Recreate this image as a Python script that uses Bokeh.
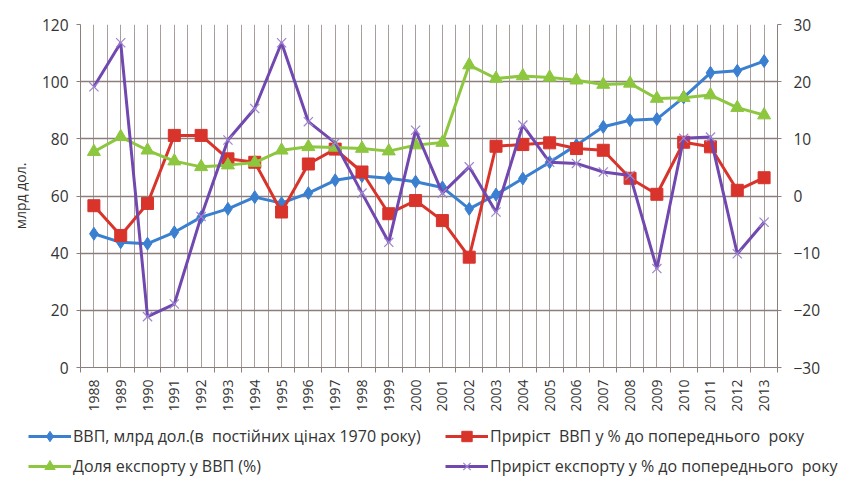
from bokeh.plotting import figure
from bokeh.models import (Range1d, LinearAxis, FixedTicker, Legend, LegendItem,
                          ColumnDataSource)
from bokeh.embed import file_html
from bokeh.resources import INLINE
import math

years = [str(y) for y in range(1988, 2014)]
gdp = [46.8, 43.8, 43.3, 47.3, 52.6, 55.5, 59.6, 57.5, 61.0, 65.5, 67.0, 66.2, 65.0,
       63.0, 55.5, 60.5, 66.1, 71.8, 77.8, 84.2, 86.5, 86.9, 94.5, 103.1, 103.8, 107.2]
gdp_growth = [-1.7, -6.9, -1.3, 10.6, 10.6, 6.5, 5.9, -2.8, 5.6, 8.2, 4.2, -3.1, -0.8,
              -4.3, -10.7, 8.7, 9.0, 9.3, 8.3, 8.0, 3.1, 0.3, 9.4, 8.6, 1.0, 3.2]
export_share = [75.5, 80.7, 76.0, 72.2, 70.2, 70.8, 71.7, 76.0, 77.2, 77.0, 76.6, 75.7, 77.8,
                78.7, 105.8, 101.1, 102.0, 101.5, 100.5, 99.0, 99.4, 94.1, 94.4, 95.3, 90.9, 88.3]
export_growth = [19.1, 26.8, -21.1, -18.9, -3.6, 9.8, 15.3, 26.8, 13.0, 9.3, 0.5, -8.1, 11.5,
                 0.5, 5.1, -2.8, 12.4, 5.9, 5.7, 4.2, 3.6, -12.7, 10.1, 10.3, -10.1, -4.6]

labels = ["ВВП, млрд дол.(в  постійних цінах 1970 року)",
          "Приріст  ВВП у % до попереднього  року",
          "Доля експорту у ВВП (%)",
          "Приріст експорту у % до попереднього  року"]
left_ticks = [0, 20, 40, 60, 80, 100, 120]
right_ticks = [-30, -20, -10, 0, 10, 20, 30]

FONT = "Open Sans"
TXT = "#333333"
GRID_H = "#8a7f7c"
GRID_V = "#a89f9c"

BLUE = "#3b7fd0"
RED = "#d8342c"
GREEN = "#8dc63f"
PURPLE = "#7148b0"
XMARK = "#9d85d0"

xs = [i + 0.5 for i in range(len(years))]
src = ColumnDataSource(dict(x=xs, gdp=gdp, gg=gdp_growth, es=export_share, eg=export_growth))

p = figure(width=862, height=420, output_backend="svg", toolbar_location=None,
           x_range=Range1d(0, len(years)), y_range=Range1d(left_ticks[0], left_ticks[-1]),
           min_border_left=80, min_border_right=85, min_border_top=24, min_border_bottom=53,
           background_fill_color="white", border_fill_color="white")
p.outline_line_color = None
p.extra_y_ranges = {"right": Range1d(right_ticks[0], right_ticks[-1])}

# x axis
xa = p.xaxis[0]
xa.ticker = FixedTicker(ticks=xs, minor_ticks=list(range(len(years) + 1)))
xa.major_label_overrides = {x: y for x, y in zip(xs, years)}
xa.major_label_orientation = math.pi / 2
xa.major_tick_line_color = None
xa.major_tick_out = 5
xa.major_tick_in = 0
xa.minor_tick_out = 5
xa.minor_tick_in = 0
xa.minor_tick_line_color = GRID_H
xa.axis_line_color = GRID_H
xa.major_label_standoff = 7
xa.major_label_text_font = FONT
xa.major_label_text_font_size = "14px"
xa.major_label_text_color = TXT

# left axis
ya = p.yaxis[0]
ya.ticker = FixedTicker(ticks=left_ticks)
ya.minor_tick_line_color = None
ya.major_tick_out = 4
ya.major_tick_in = 0
ya.major_tick_line_color = GRID_H
ya.axis_line_color = GRID_H
ya.major_label_standoff = 8
ya.major_label_text_font = FONT
ya.major_label_text_font_size = "15.5px"
ya.major_label_text_color = TXT
ya.axis_label = "млрд дол."
ya.axis_label_text_font = FONT
ya.axis_label_text_font_size = "14px"
ya.axis_label_text_font_style = "normal"
ya.axis_label_text_color = TXT
ya.axis_label_standoff = 9

# right axis
ra = LinearAxis(y_range_name="right", ticker=FixedTicker(ticks=right_ticks))
ra.minor_tick_line_color = None
ra.major_tick_out = 4
ra.major_tick_in = 0
ra.major_tick_line_color = GRID_H
ra.axis_line_color = GRID_H
ra.major_label_standoff = 12
ra.major_label_text_font = FONT
ra.major_label_text_font_size = "15.5px"
ra.major_label_text_color = TXT
p.add_layout(ra, "right")

# grids
p.xgrid.grid_line_color = GRID_V
p.xgrid.grid_line_width = 1
p.xgrid.minor_grid_line_color = GRID_V
p.xgrid.minor_grid_line_width = 1
p.ygrid.grid_line_color = GRID_H
p.ygrid.grid_line_width = 1.3


def draw_series(fig, rng_name):
    kw = {} if rng_name is None else {"y_range_name": rng_name}
    out = []
    out.append((fig.line("x", "gdp", source=src, color=BLUE, line_width=3),
                fig.scatter("x", "gdp", source=src, marker="diamond", size=13, color=BLUE)))
    out.append((fig.line("x", "gg", source=src, color=RED, line_width=3, **kw),
                fig.scatter("x", "gg", source=src, marker="square", size=12, color=RED, **kw)))
    out.append((fig.line("x", "es", source=src, color=GREEN, line_width=3),
                fig.scatter("x", "es", source=src, marker="triangle", size=13, color=GREEN)))
    out.append((fig.line("x", "eg", source=src, color=PURPLE, line_width=3, **kw),
                fig.scatter("x", "eg", source=src, marker="x", size=13, line_color=XMARK,
                            line_width=1.2, **kw)))
    return out


draw_series(p, "right")

# legend strip below the chart (series drawn out of view, only legend shows)
q = figure(width=862, height=71, output_backend="svg", toolbar_location=None,
           x_range=Range1d(1000, 1001), y_range=Range1d(1000, 1001),
           x_axis_type=None, y_axis_type=None, min_border=0,
           min_border_left=0, min_border_right=0, min_border_top=0, min_border_bottom=0,
           background_fill_color="white", border_fill_color="white")
q.grid.visible = False
q.outline_line_color = None
rs = draw_series(q, None)
items = [LegendItem(label=lab, renderers=list(r)) for lab, r in zip(labels, rs)]


def make_legend(its, loc):
    lg = Legend(items=its, location=loc, orientation="vertical")
    lg.border_line_color = None
    lg.background_fill_alpha = 0
    lg.padding = 0
    lg.margin = 0
    lg.spacing = 4
    lg.glyph_width = 43
    lg.glyph_height = 26
    lg.label_height = 26
    lg.label_standoff = 2
    lg.label_text_font = FONT
    lg.label_text_font_size = "16px"
    lg.label_text_color = TXT
    return lg


q.add_layout(make_legend([items[0], items[2]], (28, 12)), "center")
q.add_layout(make_legend([items[1], items[3]], (445, 12)), "center")

open("out.html", "w").write(file_html([p, q], INLINE))
